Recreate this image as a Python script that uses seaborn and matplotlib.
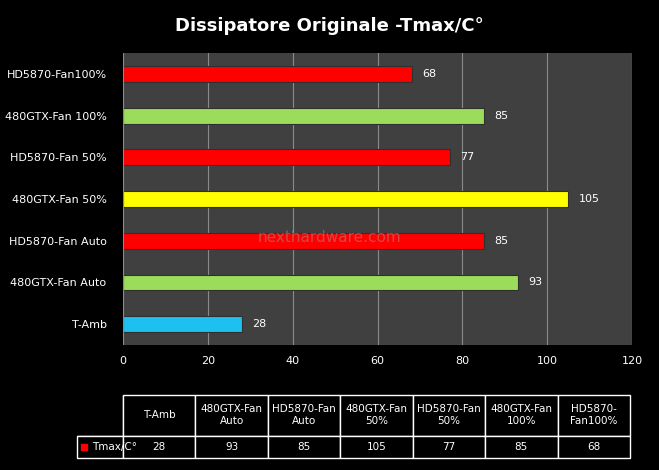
import pandas as pd
import seaborn as sns
from matplotlib import pyplot as plt

# data, top to bottom as drawn
labels = ['HD5870-Fan100%', '480GTX-Fan 100%', 'HD5870-Fan 50%', '480GTX-Fan 50%',
          'HD5870-Fan Auto', '480GTX-Fan Auto', 'T-Amb']
values = [68, 85, 77, 105, 85, 93, 28]
colors = ['#ff0000', '#9bdc5a', '#ff0000', '#ffff00', '#ff0000', '#9bdc5a', '#1ec0f0']

# table order (left to right)
table_cols = ['T-Amb', '480GTX-Fan\nAuto', 'HD5870-Fan\nAuto', '480GTX-Fan\n50%',
              'HD5870-Fan\n50%', '480GTX-Fan\n100%', 'HD5870-\nFan100%']
table_vals = [28, 93, 85, 105, 77, 85, 68]

df = pd.DataFrame({'label': labels, 'value': values})

fig = plt.figure(figsize=(6.59, 4.70), dpi=100, facecolor='black')
ax = fig.add_axes([0.187, 0.266, 0.772, 0.621])
ax.set_facecolor('#404040')
sns.barplot(data=df, y='label', x='value', hue='label', palette=colors, legend=False,
            saturation=1, width=0.38, edgecolor='#303030', linewidth=0.8, ax=ax, zorder=3)
ax.set_xlim(0, 120)
ax.set_xticks(range(0, 121, 20))
ax.grid(axis='x', color='#8a8a8a', linewidth=0.8, zorder=0)
ax.grid(axis='y', visible=False)
for s in ax.spines.values():
    s.set_visible(False)
ax.axvline(0, color='#8a8a8a', linewidth=0.8, zorder=4)
ax.set_xlabel('')
ax.set_ylabel('')
ax.tick_params(colors='white', labelsize=8, length=0)
ax.tick_params(axis='y', pad=12)
ax.tick_params(axis='x', pad=8)
for i, v in enumerate(values):
    ax.text(v + 2.5, i, str(v), color='white', va='center', ha='left', fontsize=8)

fig.text(0.5, 0.945, 'Dissipatore Originale -Tmax/C°', color='white', ha='center',
         va='center', fontsize=13, fontweight='bold')
fig.text(0.5, 0.495, 'nexthardware.com', color='#a0a0a0', alpha=0.45, ha='center',
         va='center', fontsize=11, zorder=10)

# data table
tax = fig.add_axes([0.117, 0.026, 0.839, 0.134])
tax.axis('off')
cells = [[''] + table_cols, [''] + [str(v) for v in table_vals]]
tbl = tax.table(cellText=cells, bbox=[0, 0, 1, 1], cellLoc='center',
                colWidths=[0.083] + [0.131] * 7)
tbl.auto_set_font_size(False)
for (r, c), cell in tbl.get_celld().items():
    cell.set_facecolor('black')
    cell.set_edgecolor('white')
    cell.get_text().set_color('white')
    cell.get_text().set_fontsize(7.5)
    cell.set_height(0.65 if r == 0 else 0.35)
    if r == 0 and c == 0:
        cell.visible_edges = 'BR'
tax.text(0.027, 0.175, 'Tmax/C°', color='white', fontsize=7.5, va='center', ha='left',
         transform=tax.transAxes, zorder=10)
tax.scatter([0.012], [0.175], marker='s', s=20, color='#ff0000', zorder=10,
            transform=tax.transAxes, clip_on=False)

fig.savefig('out.png', dpi=100, facecolor='black')
